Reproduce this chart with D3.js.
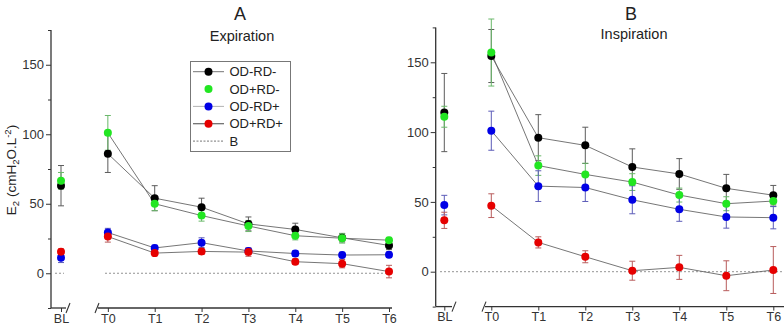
<!DOCTYPE html>
<html><head><meta charset="utf-8">
<script src="https://cdn.jsdelivr.net/npm/d3@7"></script>
<style>
html,body{margin:0;padding:0;background:#fff;}
svg{display:block;font-family:"Liberation Sans",Arial,sans-serif;}
</style></head>
<body><svg id="c" width="784" height="328"></svg>
<script>
const categories = ["BL","T0","T1","T2","T3","T4","T5","T6"];
const seriesNames = ["OD-RD-","OD+RD-","OD-RD+","OD+RD+"];
const seriesColors = ["#000000","#22e622","#0000e6","#e60000"];
const yTicks = [0,50,100,150];
const yMinorTicks = [-25,25,75,125,175];

// Panel A: Expiration
const expODmRDm = [63, 86, 54, 47.5, 35.5, 31.5, 25.5, 20];
const expODmRDmErr = [14.5, 13.5, 9, 6.5, 5, 4.5, 3, 3];
const expODpRDm = [66.5, 101, 50, 41.5, 34, 27, 25.2, 23.8];
const expODpRDmErr = [6, 12.5, 5, 4, 4, 3, 3.5, 2];
const expODmRDp = [11.2, 29.3, 18.2, 22, 16, 14.2, 13.1, 13.3];
const expODmRDpErr = [3.5, 3, 2, 3.5, 2, 2, 2, 2];
const expODpRDp = [15.5, 26.4, 14.5, 15.7, 15.2, 8.3, 6.9, 1.2];
const expODpRDpErr = [2, 4, 2, 2, 3, 2, 3, 4.5];

// Panel B: Inspiration
const insODmRDm = [114, 154.5, 96, 90.5, 75, 70, 59.7, 54.8];
const insODmRDmErr = [28, 19, 16.5, 13, 13, 11, 10, 7];
const insODpRDm = [111, 157, 76, 69.7, 64.2, 54.9, 48.7, 50.6];
const insODpRDmErr = [7.5, 24, 7, 8, 6, 5, 5, 4];
const insODmRDp = [47.7, 101, 61.3, 60.3, 51.5, 44.7, 39.2, 38.7];
const insODmRDpErr = [7, 14, 11, 10, 10, 8.6, 8, 8];
const insODpRDp = [36.8, 47.3, 21, 10.7, 0.7, 3.1, -2.9, 1.2];
const insODpRDpErr = [5.8, 8.5, 4, 4.3, 6.8, 8.6, 10.7, 16.8];

const svg = d3.select("#c");

function panel(cfg){
  const g = svg.append("g");
  const x = d3.scalePoint().domain(categories).range([cfg.x0, cfg.x1]);
  const y = d3.scaleLinear().domain([-25,175]).range([cfg.yb, cfg.yt]);
  const axisCol = "#333";

  // zero baseline (dotted)
  cfg.zeroSegs.forEach(s=>{
    g.append("line").attr("x1",s[0]).attr("x2",s[1]).attr("y1",y(0)).attr("y2",y(0))
      .attr("stroke","#777").attr("stroke-width",0.8).attr("stroke-dasharray","2,2");
  });

  // y axis
  const ya = d3.axisLeft(y).tickValues(yTicks).tickSize(5).tickFormat(d3.format("d"));
  const yg = g.append("g").attr("transform",`translate(${cfg.ax},0)`).call(ya);
  yg.select(".domain").remove();
  yg.selectAll(".tick line").attr("stroke",axisCol).attr("stroke-width",1);
  yg.selectAll(".tick text").attr("font-size",13).attr("fill","#333")
    .attr("font-family","Liberation Sans, Arial, sans-serif").attr("x",-7);
  const ym = d3.axisLeft(y).tickValues(yMinorTicks).tickSize(3).tickFormat("");
  const ymg = g.append("g").attr("transform",`translate(${cfg.ax},0)`).call(ym);
  ymg.select(".domain").remove();
  ymg.selectAll(".tick line").attr("stroke",axisCol);
  g.append("line").attr("x1",cfg.ax).attr("x2",cfg.ax).attr("y1",cfg.yb).attr("y2",cfg.yt)
    .attr("stroke",axisCol).attr("stroke-width",1.3);

  // x axis
  const xa = d3.axisBottom(x).tickSize(4);
  const xg = g.append("g").attr("transform",`translate(0,${cfg.yb})`).call(xa);
  xg.select(".domain").remove();
  xg.selectAll(".tick line").attr("stroke",axisCol);
  xg.selectAll(".tick text").attr("font-size",12.5).attr("fill","#333")
    .attr("font-family","Liberation Sans, Arial, sans-serif").attr("y",6).attr("dy","0.71em");
  g.append("line").attr("x1",cfg.ax).attr("x2",cfg.brk[0]).attr("y1",cfg.yb).attr("y2",cfg.yb)
    .attr("stroke",axisCol).attr("stroke-width",1.3);
  g.append("line").attr("x1",cfg.brk[1]).attr("x2",cfg.axEnd).attr("y1",cfg.yb).attr("y2",cfg.yb)
    .attr("stroke",axisCol).attr("stroke-width",1.3);
  [cfg.brk[0]+2, cfg.brk[1]-1].forEach(bx=>{
    g.append("line").attr("x1",bx-2).attr("x2",bx+2).attr("y1",cfg.yb+5).attr("y2",cfg.yb-5)
      .attr("stroke",axisCol).attr("stroke-width",1.1);
  });

  // lines (T0..T6)
  const line = d3.line().x(d=>x(d.c)).y(d=>y(d.v));
  cfg.series.forEach(s=>{
    const pts = categories.map((c,i)=>({c, v:s.v[i]})).slice(1);
    g.append("path").attr("d",line(pts)).attr("fill","none")
      .attr("stroke","#666").attr("stroke-width",0.9);
  });

  // error bars
  cfg.series.forEach((s,si)=>{
    const col = d3.interpolateRgb(seriesColors[si],"#9a9a9a")(0.6);
    categories.forEach((c,i)=>{
      const cx = x(c), lo = y(s.v[i]-s.e[i]), hi = y(s.v[i]+s.e[i]);
      g.append("line").attr("x1",cx).attr("x2",cx).attr("y1",lo).attr("y2",hi)
        .attr("stroke",col).attr("stroke-width",1);
      [lo,hi].forEach(yy=>g.append("line").attr("x1",cx-3).attr("x2",cx+3).attr("y1",yy).attr("y2",yy)
        .attr("stroke",col).attr("stroke-width",1));
    });
  });

  // markers
  cfg.series.forEach((s,si)=>{
    g.selectAll(null).data(categories).enter().append("circle")
      .attr("cx",c=>x(c)).attr("cy",(c,i)=>y(s.v[i])).attr("r",4)
      .attr("fill",seriesColors[si]);
  });

  // titles
  g.append("text").attr("x",cfg.titleX).attr("y",20).attr("text-anchor","middle")
    .attr("font-size",18).attr("fill","#222").text(cfg.title);
  g.append("text").attr("x",cfg.subX).attr("y",cfg.subY).attr("text-anchor","middle")
    .attr("font-size",14.5).attr("fill","#222").text(cfg.sub);
}

panel({x0:61, x1:389, ax:51, axEnd:392, yb:308, yt:30, brk:[66,98],
  zeroSegs:[[55,64],[105,389]], title:"A", titleX:240, sub:"Expiration", subX:242, subY:41,
  series:[{v:expODmRDm,e:expODmRDmErr},{v:expODpRDm,e:expODpRDmErr},{v:expODmRDp,e:expODmRDpErr},{v:expODpRDp,e:expODpRDpErr}]});

panel({x0:444.3, x1:773.3, ax:435.7, axEnd:784, yb:306.6, yt:27.4, brk:[452,485],
  zeroSegs:[[440,784]], title:"B", titleX:631, sub:"Inspiration", subX:634, subY:39,
  series:[{v:insODmRDm,e:insODmRDmErr},{v:insODpRDm,e:insODpRDmErr},{v:insODmRDp,e:insODmRDpErr},{v:insODpRDp,e:insODpRDpErr}]});

// y label
const yl = svg.append("text").attr("transform","translate(16,170) rotate(-90)")
  .attr("text-anchor","middle").attr("font-size",13.5).attr("fill","#222");
yl.append("tspan").text("E");
yl.append("tspan").attr("font-size",9.5).attr("dy",3).text("2");
yl.append("tspan").attr("dy",-3).text(" (cmH");
yl.append("tspan").attr("font-size",9.5).attr("dy",3).text("2");
yl.append("tspan").attr("dy",-3).text("O.L");
yl.append("tspan").attr("font-size",9.5).attr("dy",-5).text("-2");
yl.append("tspan").attr("dy",5).text(")");

// legend
const lg = svg.append("g");
lg.append("rect").attr("x",190.5).attr("y",61.5).attr("width",100).attr("height",90)
  .attr("fill","#fff").attr("stroke","#777").attr("stroke-width",1);
const legendItems = [
  {name:seriesNames[0], col:seriesColors[0], line:"#666", dash:null},
  {name:seriesNames[1], col:seriesColors[1], line:null, dash:null},
  {name:seriesNames[2], col:seriesColors[2], line:"#aaa", dash:null},
  {name:seriesNames[3], col:seriesColors[3], line:"#333", dash:null},
  {name:"B", col:null, line:"#666", dash:"2,1.5"}
];
legendItems.forEach((it,i)=>{
  const yy = 71.7 + i*17.35;
  if(it.line) lg.append("line").attr("x1",193).attr("x2",224).attr("y1",yy).attr("y2",yy)
    .attr("stroke",it.line).attr("stroke-width",0.9).attr("stroke-dasharray",it.dash);
  if(it.col) lg.append("circle").attr("cx",208.5).attr("cy",yy).attr("r",4).attr("fill",it.col);
  lg.append("text").attr("x",229.5).attr("y",yy).attr("dy","0.36em").attr("font-size",13)
    .attr("fill","#222").text(it.name);
});
</script></body></html>
